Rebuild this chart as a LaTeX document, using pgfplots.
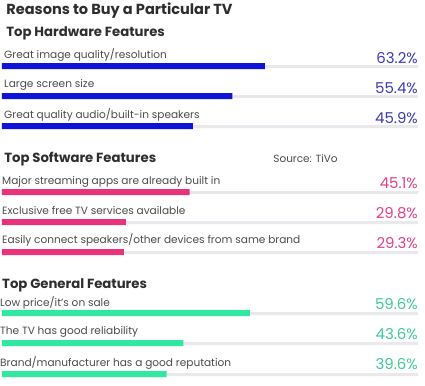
\documentclass[border=0pt]{standalone}
\usepackage{pgfplots}
\pgfplotsset{compat=1.18}
\usepackage{fontspec}
\setmainfont{Poppins}
\definecolor{hw}{HTML}{0F14D8}
\definecolor{hwt}{HTML}{3A3AB8}
\definecolor{sw}{HTML}{E8327A}
\definecolor{swt}{HTML}{E2408A}
\definecolor{gn}{HTML}{30E8A0}
\definecolor{gnt}{HTML}{3CCB92}
\definecolor{trk}{HTML}{E9E9ED}
\definecolor{ttl}{HTML}{2E2E2E}
\definecolor{lbl}{HTML}{4A4A4A}
\begin{document}
\begin{tikzpicture}
\begin{axis}[
  scale only axis, width=425bp, height=386bp,
  xmin=-0.48, xmax=101.68, ymin=0, ymax=386, y dir=reverse,
  hide axis, clip=false,
]
\path (rel axis cs:0,0) rectangle (rel axis cs:1,1);
% tracks
\addplot[xbar, bar shift=0pt, bar width=3, fill=trk, draw=none] coordinates {(100,66.5) (100,96.5) (100,126.5) (100,192.5) (100,222.5) (100,252.5) (100,313.5) (100,343.5) (100,374.5)};
% hardware
\addplot[xbar, bar shift=0pt, bar width=6, fill=hw, draw=none] coordinates {(63.2,66) (55.4,96) (45.9,126)};
% software
\addplot[xbar, bar shift=0pt, bar width=6, fill=sw, draw=none] coordinates {(45.1,192) (29.8,222) (29.3,252)};
% general
\addplot[xbar, bar shift=0pt, bar width=6, fill=gn, draw=none] coordinates {(59.6,313) (43.6,343) (39.6,374)};
% texts
\node[anchor=west, inner sep=0, text=ttl, font=\fontsize{14.6}{16}\selectfont\bfseries] at (axis cs:1,11) {Reasons to Buy a Particular TV};
\node[anchor=west, inner sep=0, text=ttl, font=\fontsize{13.3}{15}\selectfont\bfseries] at (axis cs:1,33) {Top Hardware Features};
\node[anchor=west, inner sep=0, text=ttl, font=\fontsize{13.3}{15}\selectfont\bfseries] at (axis cs:0.5,159) {Top Software Features};
\node[anchor=west, inner sep=0, text=lbl, font=\fontsize{10.5}{12}\selectfont] at (axis cs:65.2,159) {Source: TiVo};
\node[anchor=west, inner sep=0, text=ttl, font=\fontsize{13.3}{15}\selectfont\bfseries] at (axis cs:0,285) {Top General Features};
\tikzset{lab/.style={anchor=west, inner sep=0, text=lbl, font=\fontsize{10.6}{12}\selectfont}}
\tikzset{val/.style={anchor=east, inner sep=0, font=\fontsize{15}{17}\selectfont}}
\node[lab] at (axis cs:0.48,55) {Great image quality/resolution};
\node[lab] at (axis cs:0.48,85) {Large screen size};
\node[lab] at (axis cs:0.48,115) {Great quality audio/built-in speakers};
\node[lab] at (axis cs:0,182) {Major streaming apps are already built in};
\node[lab] at (axis cs:0,211) {Exclusive free TV services available};
\node[lab] at (axis cs:0,240) {Easily connect speakers/other devices from same brand};
\node[lab] at (axis cs:-0.48,303) {Low price/it's on sale};
\node[lab] at (axis cs:-0.48,332) {The TV has good reliability};
\node[lab] at (axis cs:-0.48,363) {Brand/manufacturer has a good reputation};
\node[val, text=hwt] at (axis cs:100,58) {63.2\%};
\node[val, text=hwt] at (axis cs:100,88) {55.4\%};
\node[val, text=hwt] at (axis cs:100,118) {45.9\%};
\node[val, text=swt] at (axis cs:100,183) {45.1\%};
\node[val, text=swt] at (axis cs:100,213) {29.8\%};
\node[val, text=swt] at (axis cs:100,243) {29.3\%};
\node[val, text=gnt] at (axis cs:100,304) {59.6\%};
\node[val, text=gnt] at (axis cs:100,334) {43.6\%};
\node[val, text=gnt] at (axis cs:100,364) {39.6\%};
\end{axis}
\end{tikzpicture}
\end{document}
